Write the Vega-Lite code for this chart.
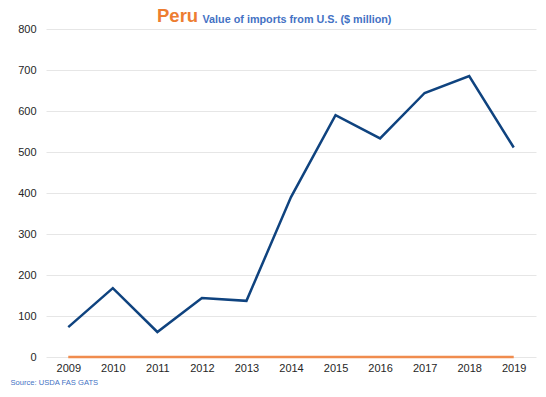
{
  "$schema": "https://vega.github.io/schema/vega-lite/v6.json",
  "autosize": {"type": "none"},
  "width": 490,
  "height": 328,
  "padding": {"left": 46, "top": 29, "right": 10, "bottom": 40},
  "background": "white",
  "title": {
    "text": "Peru",
    "anchor": "start",
    "frame": "group",
    "align": "left",
    "baseline": "alphabetic",
    "dx": 111,
    "dy": 32,
    "offset": 5,
    "font": "Liberation Sans",
    "fontSize": 18.5,
    "fontWeight": "bold",
    "color": "#ED7D31"
  },
  "data": {
    "values": [
      {"year": "2009", "series": "value", "v": 73},
      {"year": "2010", "series": "value", "v": 168},
      {"year": "2011", "series": "value", "v": 61},
      {"year": "2012", "series": "value", "v": 144},
      {"year": "2013", "series": "value", "v": 137},
      {"year": "2014", "series": "value", "v": 390},
      {"year": "2015", "series": "value", "v": 590},
      {"year": "2016", "series": "value", "v": 533},
      {"year": "2017", "series": "value", "v": 644},
      {"year": "2018", "series": "value", "v": 685},
      {"year": "2019", "series": "value", "v": 511},
      {"year": "2009", "series": "zero", "v": 0},
      {"year": "2010", "series": "zero", "v": 0},
      {"year": "2011", "series": "zero", "v": 0},
      {"year": "2012", "series": "zero", "v": 0},
      {"year": "2013", "series": "zero", "v": 0},
      {"year": "2014", "series": "zero", "v": 0},
      {"year": "2015", "series": "zero", "v": 0},
      {"year": "2016", "series": "zero", "v": 0},
      {"year": "2017", "series": "zero", "v": 0},
      {"year": "2018", "series": "zero", "v": 0},
      {"year": "2019", "series": "zero", "v": 0}
    ]
  },
  "mark": {"type": "line", "strokeWidth": 2.5, "strokeJoin": "miter"},
  "encoding": {
    "x": {
      "field": "year",
      "type": "ordinal",
      "scale": {"type": "point", "padding": 0.5},
      "axis": {
        "title": "Source: USDA FAS GATS",
        "titleAnchor": "start",
        "titleAlign": "left",
        "titleX": -36,
        "titleY": 21,
        "titleFont": "Liberation Sans",
        "titleFontSize": 7.6,
        "titleFontWeight": "normal",
        "titleColor": "#4472C4",
        "labelAngle": 0,
        "labelFont": "Liberation Sans",
        "labelFontSize": 11,
        "labelColor": "#262626",
        "labelPadding": 5,
        "domain": false,
        "ticks": false,
        "grid": false
      }
    },
    "y": {
      "field": "v",
      "type": "quantitative",
      "scale": {"domain": [0, 800], "nice": false},
      "axis": {
        "title": "Value of imports from U.S. ($ million)",
        "titleAngle": 0,
        "titleAlign": "left",
        "titleBaseline": "alphabetic",
        "titleX": 156,
        "titleY": -7,
        "titleFont": "Liberation Sans",
        "titleFontSize": 10.8,
        "titleFontWeight": "bold",
        "titleColor": "#4472C4",
        "values": [0, 100, 200, 300, 400, 500, 600, 700, 800],
        "labelFont": "Liberation Sans",
        "labelFontSize": 11,
        "labelColor": "#262626",
        "labelPadding": 10,
        "domain": false,
        "ticks": false,
        "gridColor": "#e6e6e6",
        "gridWidth": 1
      }
    },
    "color": {
      "field": "series",
      "type": "nominal",
      "scale": {"domain": ["value", "zero"], "range": ["#0f437f", "#F08C4E"]},
      "legend": null
    }
  },
  "config": {
    "view": {"stroke": null}
  }
}
